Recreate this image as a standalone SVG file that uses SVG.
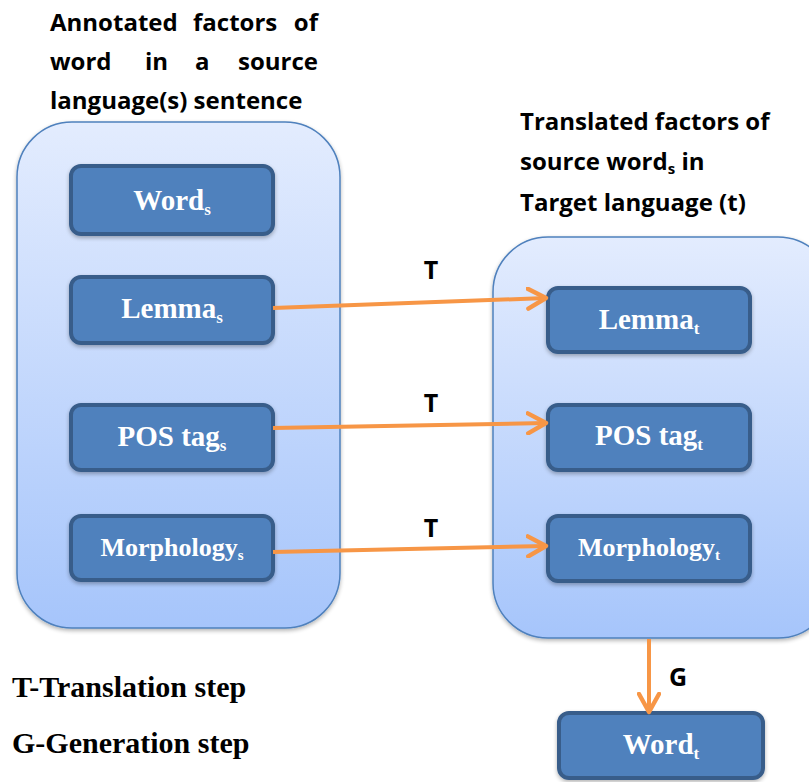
<svg xmlns="http://www.w3.org/2000/svg" width="809" height="782" viewBox="0 0 809 782">
  <style>
    .title { font-family: "Open Sans", "Liberation Sans", sans-serif; font-weight: bold; font-size: 24px; fill: #000; }
    .end { text-anchor: end; }
    .lbl { font-family: "Liberation Serif", serif; font-weight: bold; font-size: 29px; fill: #fff; text-anchor: middle; }
    .lbl.small { font-size: 26px; }
    .sub { font-size: 17px; }
    .lbl.small .sub { font-size: 15px; }
    .step { font-family: "Open Sans", "Liberation Sans", sans-serif; font-weight: bold; font-size: 25px; fill: #000; text-anchor: middle; }
    .legend { font-family: "Liberation Serif", serif; font-weight: bold; font-size: 30px; fill: #000; }
    .container { stroke: #4f81bd; stroke-width: 1.5; fill: url(#panel); filter: url(#shadow); }
    .box { fill: #4f81bd; stroke: #385d8a; stroke-width: 4; filter: url(#shadow); }
    .conn { stroke: #f79646; stroke-width: 4; fill: none; marker-end: url(#arrow); }
  </style>
  <defs>
    <linearGradient id="panel" x1="0" y1="0" x2="0" y2="1">
      <stop offset="0" stop-color="#e3ecfe"/>
      <stop offset="1" stop-color="#a6c5fb"/>
    </linearGradient>
    <filter id="shadow" x="-10%" y="-10%" width="130%" height="130%">
      <feGaussianBlur in="SourceAlpha" stdDeviation="2"/>
      <feOffset dx="0" dy="2" result="b"/>
      <feComponentTransfer><feFuncA type="linear" slope="0.3"/></feComponentTransfer>
      <feMerge><feMergeNode/><feMergeNode in="SourceGraphic"/></feMerge>
    </filter>
    <marker id="arrow" viewBox="0 0 12 12" refX="10" refY="6" markerWidth="6" markerHeight="6" orient="auto" markerUnits="strokeWidth">
      <path d="M1,1 L10,6 L1,11" fill="none" stroke="#f79646" stroke-width="2.2" stroke-linecap="round" stroke-linejoin="round"/>
    </marker>
  </defs>

  <!-- Headings (justified lines are set word by word) -->
  <g id="source-heading">
    <text class="title" x="50" y="31">Annotated</text>
    <text class="title" x="193" y="31">factors</text>
    <text class="title end" x="318" y="31">of</text>
    <text class="title" x="50" y="70">word</text>
    <text class="title" x="145" y="70">in</text>
    <text class="title" x="195" y="70">a</text>
    <text class="title end" x="318" y="70">source</text>
    <text class="title" x="50" y="109">language(s) sentence</text>
  </g>
  <g id="target-heading">
    <text class="title" x="520" y="130">Translated factors of</text>
    <text class="title" x="520" y="170">source word<tspan font-size="15" dy="4">s</tspan><tspan dy="-4"> in</tspan></text>
    <text class="title" x="520" y="211">Target language (t)</text>
  </g>

  <!-- Containers -->
  <g id="source-panel">
    <rect class="container" x="17" y="122" width="323" height="506" rx="55" ry="55"/>
  </g>
  <g id="target-panel">
    <rect class="container" x="493" y="237" width="340" height="401" rx="55" ry="55"/>
  </g>

  <!-- Source factors -->
  <g id="word-s">
    <rect class="box" x="71" y="166" width="202" height="68" rx="10"/>
    <text class="lbl" x="172" y="210">Word<tspan class="sub" dy="5">s</tspan></text>
  </g>
  <g id="lemma-s">
    <rect class="box" x="71" y="277" width="202" height="66" rx="10"/>
    <text class="lbl" x="172" y="318">Lemma<tspan class="sub" dy="5">s</tspan></text>
  </g>
  <g id="pos-s">
    <rect class="box" x="71" y="405" width="202" height="65" rx="10"/>
    <text class="lbl" x="172" y="446">POS tag<tspan class="sub" dy="5">s</tspan></text>
  </g>
  <g id="morph-s">
    <rect class="box" x="71" y="516" width="202" height="64" rx="10"/>
    <text class="lbl small" x="172" y="556">Morphology<tspan class="sub" dy="4">s</tspan></text>
  </g>

  <!-- Target factors -->
  <g id="lemma-t">
    <rect class="box" x="548" y="288" width="202" height="64" rx="10"/>
    <text class="lbl" x="649" y="329">Lemma<tspan class="sub" dy="5">t</tspan></text>
  </g>
  <g id="pos-t">
    <rect class="box" x="548" y="405" width="202" height="65" rx="10"/>
    <text class="lbl" x="649" y="445">POS tag<tspan class="sub" dy="5">t</tspan></text>
  </g>
  <g id="morph-t">
    <rect class="box" x="548" y="516" width="202" height="65" rx="10"/>
    <text class="lbl small" x="649" y="556">Morphology<tspan class="sub" dy="4">t</tspan></text>
  </g>
  <g id="word-t">
    <rect class="box" x="559" y="713" width="204" height="65" rx="10"/>
    <text class="lbl" x="661" y="754">Word<tspan class="sub" dy="5">t</tspan></text>
  </g>

  <!-- Connectors -->
  <g id="connectors">
    <path class="conn" d="M273,308 L546,298"/>
    <path class="conn" d="M273,428 L546,423"/>
    <path class="conn" d="M273,552 L546,546"/>
    <path class="conn" d="M649,639 L649,712"/>
    <text class="step" x="431" y="279">T</text>
    <text class="step" x="431" y="412">T</text>
    <text class="step" x="431" y="537">T</text>
    <text class="step" x="678" y="686">G</text>
  </g>

  <!-- Legend -->
  <g id="legend">
    <text class="legend" x="12" y="697">T-Translation step</text>
    <text class="legend" x="12" y="753">G-Generation step</text>
  </g>
</svg>
